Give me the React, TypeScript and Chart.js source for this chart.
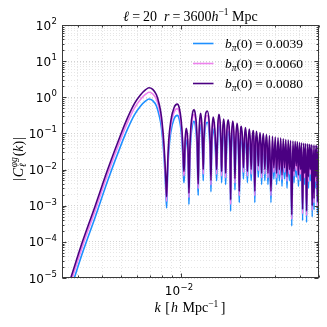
import React, { useEffect, useRef } from "react";
import { Chart, registerables } from "chart.js";
Chart.register(...registerables);

// wavenumber k [h/Mpc] (shared by all series)
const K = [
  0.00247, 0.002769, 0.003172, 0.003684, 0.004257, 0.004982, 0.005365, 0.005825, 0.00625, 0.00663,
  0.006892, 0.007197, 0.007516, 0.007768, 0.007971, 0.008219, 0.008385, 0.008464,
  0.008548, 0.008673, 0.008889, 0.009227, 0.009578, 0.009804, 0.010035, 0.0102, 0.010296, 0.010356,
  0.010416, 0.010508, 0.010637, 0.010818, 0.010912, 0.010977,
  0.011029, 0.011106, 0.011236, 0.011435, 0.011637, 0.011815, 0.011995, 0.012108, 0.012185, 0.012237,
  0.012307, 0.012408, 0.012582, 0.01276, 0.012895, 0.012969,
  0.013046, 0.013199, 0.013593, 0.013897, 0.014077, 0.014191,
  0.01427, 0.014387, 0.014572, 0.01483, 0.015057, 0.01516,
  0.015251, 0.015376, 0.015575, 0.015831, 0.015979, 0.016071,
  0.016147, 0.01628, 0.016451, 0.016644, 0.016761, 0.016838,
  0.016938, 0.017087, 0.017338, 0.017592, 0.017746, 0.017848,
  0.017937, 0.018084, 0.018306, 0.018532, 0.018684, 0.01877,
  0.018859, 0.019014, 0.019248, 0.019485, 0.019645, 0.019736,
  0.019982, 0.020228, 0.020474, 0.02072,
  0.020965, 0.02121, 0.021455, 0.0217,
  0.021945, 0.02219, 0.022435, 0.02268,
  0.022925, 0.02317, 0.023415, 0.02366,
  0.023905, 0.02415, 0.024395, 0.02464,
  0.024885, 0.02513, 0.025375, 0.02562,
  0.025865, 0.02611, 0.026355, 0.0266,
  0.026845, 0.02709, 0.027335, 0.02758,
  0.02807, 0.02856, 0.02905, 0.02954, 0.03003, 0.03052, 0.03101, 0.0315, 0.03199, 0.03248,
  0.03297, 0.03346, 0.03395, 0.03444, 0.03493, 0.03542, 0.03591, 0.0364, 0.03689, 0.03738,
  0.03787, 0.03836, 0.03885, 0.03934, 0.03983, 0.04032, 0.04081, 0.0413, 0.04179, 0.04228,
  0.04277, 0.04326, 0.04375, 0.04424, 0.04473, 0.04522, 0.04571, 0.0462, 0.04669, 0.04718,
  0.04767, 0.04816, 0.04865, 0.04914, 0.04963, 0.05012,
];

// |C_l(k)| for b_pi(0) = 0.0039
const B0039 = [
  7.1e-7, 4.9e-6, 4.9e-5, 4.9e-4, 0.0049, 0.049, 0.131, 0.33, 0.573, 0.791,
  0.898, 0.809, 0.573, 0.308, 0.14, 0.0208, 0.0025, 0.000868,
  0.00497, 0.0301, 0.109, 0.25, 0.315, 0.25, 0.109, 0.0301, 0.0077, 0.00434,
  0.00673, 0.0337, 0.0673, 0.0337, 0.00673, 0.00109,
  0.00345, 0.0208, 0.0756, 0.173, 0.218, 0.173, 0.0756, 0.0208, 0.00345, 0.00194,
  0.0177, 0.0887, 0.177, 0.0887, 0.0177, 0.0049,
  0.0203, 0.102, 0.203, 0.102, 0.0203, 0.00244,
  0.0137, 0.0687, 0.137, 0.0687, 0.0137, 0.0049,
  0.0165, 0.0829, 0.165, 0.0829, 0.0165, 0.00434,
  0.0122, 0.0614, 0.122, 0.0614, 0.0122, 0.00387,
  0.0117, 0.0585, 0.117, 0.0585, 0.0117, 0.000707,
  0.0107, 0.0536, 0.107, 0.0536, 0.0107, 0.00274,
  0.00931, 0.0466, 0.0931, 0.0466, 0.00931, 0.00122,
  0.0387, 0.077, 0.0387, 0.00546,
  0.0353, 0.0707, 0.0353, 0.00434,
  0.0322, 0.0644, 0.0322, 0.0049,
  0.0294, 0.0585, 0.0294, 0.00122,
  0.028, 0.0561, 0.028, 0.00614,
  0.0256, 0.0512, 0.0256, 0.00387,
  0.0244, 0.0488, 0.0244, 0.0049,
  0.0228, 0.0455, 0.0228, 0.00387,
  0.0425, 0.00122, 0.0406, 0.00546, 0.0387, 0.00387, 0.037, 0.0049, 0.0361, 0.00345,
  0.0345, 0.00546, 0.033, 0.00308, 0.0322, 0.0049, 0.0308, 0.000274, 0.0301, 0.00434,
  0.0294, 0.00614, 0.0287, 0.00345, 0.0274, 0.0049, 0.0268, 0.000387, 0.0262, 0.00387,
  0.0256, 0.000345, 0.025, 0.00308, 0.0244, 0.0049, 0.0239, 0.00049, 0.0234, 0.00077,
  0.0228, 0.00308, 0.0228, 0.000614, 0.0223, 0.00387,
];

// |C_l(k)| for b_pi(0) = 0.0060
const B0060 = [
  1.09e-6, 7.5e-6, 7.5e-5, 7.5e-4, 0.0075, 0.075, 0.202, 0.507, 0.881, 1.217,
  1.381, 1.245, 0.881, 0.473, 0.216, 0.032, 0.00385, 0.00134,
  0.00765, 0.0463, 0.168, 0.385, 0.485, 0.385, 0.168, 0.0463, 0.0119, 0.00668,
  0.0104, 0.0519, 0.104, 0.0519, 0.0104, 0.00168,
  0.00531, 0.032, 0.116, 0.266, 0.335, 0.266, 0.116, 0.032, 0.00531, 0.00299,
  0.0272, 0.137, 0.272, 0.137, 0.0272, 0.0075,
  0.0313, 0.157, 0.313, 0.157, 0.0313, 0.00376,
  0.0212, 0.106, 0.212, 0.106, 0.0212, 0.0075,
  0.0254, 0.128, 0.254, 0.128, 0.0254, 0.00668,
  0.0188, 0.0945, 0.188, 0.0945, 0.0188, 0.00596,
  0.018, 0.09, 0.18, 0.09, 0.018, 0.00109,
  0.0164, 0.0825, 0.164, 0.0825, 0.0164, 0.00422,
  0.0143, 0.0716, 0.143, 0.0716, 0.0143, 0.00188,
  0.0596, 0.119, 0.0596, 0.0084,
  0.0543, 0.109, 0.0543, 0.00668,
  0.0496, 0.099, 0.0496, 0.0075,
  0.0452, 0.09, 0.0452, 0.00188,
  0.0431, 0.0863, 0.0431, 0.00945,
  0.0394, 0.0788, 0.0394, 0.00596,
  0.0376, 0.075, 0.0376, 0.0075,
  0.0351, 0.07, 0.0351, 0.00596,
  0.0653, 0.00188, 0.0624, 0.0084, 0.0596, 0.00596, 0.0569, 0.0075, 0.0556, 0.00531,
  0.0531, 0.0084, 0.0507, 0.00473, 0.0496, 0.0075, 0.0473, 0.000422, 0.0463, 0.00668,
  0.0452, 0.00945, 0.0442, 0.00531, 0.0422, 0.0075, 0.0413, 0.000596, 0.0403, 0.00596,
  0.0394, 0.000531, 0.0385, 0.00473, 0.0376, 0.0075, 0.0368, 0.00075, 0.0359, 0.00119,
  0.0351, 0.00473, 0.0351, 0.00095, 0.0343, 0.00596,
];

// |C_l(k)| for b_pi(0) = 0.0080
const B0080 = [
  1.45e-6, 1e-5, 1e-4, 1e-3, 0.01, 0.1, 0.269, 0.676, 1.175, 1.622,
  1.841, 1.66, 1.175, 0.631, 0.288, 0.0427, 0.00513, 0.00178,
  0.0102, 0.0617, 0.224, 0.513, 0.646, 0.513, 0.224, 0.0617, 0.0158, 0.00891,
  0.0138, 0.0692, 0.138, 0.0692, 0.0138, 0.00224,
  0.00708, 0.0427, 0.155, 0.355, 0.447, 0.355, 0.155, 0.0427, 0.00708, 0.00398,
  0.0363, 0.182, 0.363, 0.182, 0.0363, 0.01,
  0.0417, 0.209, 0.417, 0.209, 0.0417, 0.00501,
  0.0282, 0.141, 0.282, 0.141, 0.0282, 0.01,
  0.0339, 0.17, 0.339, 0.17, 0.0339, 0.00891,
  0.0251, 0.126, 0.251, 0.126, 0.0251, 0.00794,
  0.024, 0.12, 0.24, 0.12, 0.024, 0.00145,
  0.0219, 0.11, 0.219, 0.11, 0.0219, 0.00562,
  0.0191, 0.0955, 0.191, 0.0955, 0.0191, 0.00251,
  0.0794, 0.158, 0.0794, 0.0112,
  0.0724, 0.145, 0.0724, 0.00891,
  0.0661, 0.132, 0.0661, 0.01,
  0.0603, 0.12, 0.0603, 0.00251,
  0.0575, 0.115, 0.0575, 0.0126,
  0.0525, 0.105, 0.0525, 0.00794,
  0.0501, 0.1, 0.0501, 0.01,
  0.0468, 0.0933, 0.0468, 0.00794,
  0.0871, 0.00251, 0.0832, 0.0112, 0.0794, 0.00794, 0.0759, 0.01, 0.0741, 0.00708,
  0.0708, 0.0112, 0.0676, 0.00631, 0.0661, 0.01, 0.0631, 0.000562, 0.0617, 0.00891,
  0.0603, 0.0126, 0.0589, 0.00708, 0.0562, 0.01, 0.055, 0.000794, 0.0537, 0.00794,
  0.0525, 0.000708, 0.0513, 0.00631, 0.0501, 0.01, 0.049, 0.001, 0.0479, 0.00158,
  0.0468, 0.00631, 0.0468, 0.00126, 0.0457, 0.00794,
];

const SERIES_LABELS = ["0.0039", "0.0060", "0.0080"];
const SERIES_COLORS = ["#1E90FF", "#EE82EE", "#4B0082"];

const X_MIN = 0.0025;
const X_MAX = 0.05;
const Y_MIN = 1e-5;
const Y_MAX = 1e2;
const Y_TICK_EXPONENTS = [-5, -4, -3, -2, -1, 0, 1, 2];
const X_MAJOR_TICKS = [0.01];
const X_MAJOR_LABELS = ["−2"];
const X_MINOR_TICKS = [0.003, 0.004, 0.005, 0.006, 0.007, 0.008, 0.009, 0.02, 0.03, 0.04, 0.05];

const SERIF = '"Liberation Serif", "DejaVu Serif", serif';
const SANS = '"DejaVu Sans", "Noto Sans", sans-serif';

type Seg = { t: string; s?: number; it?: boolean; dy?: number; g?: number; noAdv?: boolean };

function segFont(sg: Seg, base: number, fam: string) {
  return `${sg.it ? "italic " : ""}${sg.s ?? base}px ${fam}`;
}

function drawRich(
  ctx: CanvasRenderingContext2D,
  segs: Seg[],
  x: number,
  y: number,
  align: "left" | "center" | "right",
  base: number,
  fam: string
) {
  const widths = segs.map((sg) => {
    ctx.font = segFont(sg, base, fam);
    return ctx.measureText(sg.t).width;
  });
  let w = 0;
  segs.forEach((sg, i) => {
    w += (sg.g ?? 0) + (sg.noAdv ? 0 : widths[i]);
  });
  let cx = align === "left" ? x : align === "center" ? x - w / 2 : x - w;
  ctx.textAlign = "left";
  ctx.textBaseline = "alphabetic";
  segs.forEach((sg, i) => {
    cx += sg.g ?? 0;
    ctx.font = segFont(sg, base, fam);
    ctx.fillText(sg.t, cx, y + (sg.dy ?? 0));
    if (!sg.noAdv) cx += widths[i];
  });
}

function isDecade(v: number) {
  const l = Math.log10(v);
  return Math.abs(l - Math.round(l)) < 1e-6;
}

function yGridValues() {
  const out: number[] = [];
  for (let e = -5; e < 2; e++) {
    for (let m = 1; m <= 9; m++) out.push(m * Math.pow(10, e));
  }
  out.push(100);
  return out;
}

const decorPlugin = {
  id: "decor",
  afterDraw(chart: any) {
    const ctx: CanvasRenderingContext2D = chart.ctx;
    const a = chart.chartArea;
    const xs = chart.scales.x;
    const ys = chart.scales.y;
    ctx.save();
    ctx.fillStyle = "#000";
    // frame
    ctx.strokeStyle = "#3a3a3a";
    ctx.lineWidth = 1;
    const L = Math.round(a.left) + 0.5;
    const R = Math.round(a.right) - 0.5;
    const T = Math.round(a.top) + 0.5;
    const B = Math.round(a.bottom) - 0.5;
    ctx.strokeRect(L, T, R - L, B - T);
    // inward ticks
    ctx.beginPath();
    yGridValues().forEach((v) => {
      const len = isDecade(v) ? 4 : 2;
      const py = Math.round(ys.getPixelForValue(v)) + 0.5;
      ctx.moveTo(L, py);
      ctx.lineTo(L + len, py);
      ctx.moveTo(R, py);
      ctx.lineTo(R - len, py);
    });
    [...X_MAJOR_TICKS, ...X_MINOR_TICKS].forEach((v) => {
      const len = X_MAJOR_TICKS.includes(v) ? 4 : 2;
      const px = Math.round(xs.getPixelForValue(v)) + 0.5;
      ctx.moveTo(px, B);
      ctx.lineTo(px, B - len);
      ctx.moveTo(px, T);
      ctx.lineTo(px, T + len);
    });
    ctx.stroke();

    // y tick labels
    Y_TICK_EXPONENTS.forEach((e) => {
      const py = ys.getPixelForValue(Math.pow(10, e));
      const ex = String(e).replace("-", "−");
      drawRich(ctx, [{ t: "10" }, { t: ex, s: 8.5, dy: -5.5, g: 0.5 }], 57, py + 4.5, "right", 12, SANS);
    });
    // x tick labels
    X_MAJOR_TICKS.forEach((v, i) => {
      const px = xs.getPixelForValue(v);
      drawRich(ctx, [{ t: "10" }, { t: X_MAJOR_LABELS[i], s: 8.5, dy: -5.5, g: 0.5 }], px - 2, 295, "center", 12, SANS);
    });

    // title
    drawRich(
      ctx,
      [
        { t: "ℓ", it: true },
        { t: "=", g: 3 },
        { t: "20", g: 3 },
        { t: "r", it: true, g: 7 },
        { t: "=", g: 3 },
        { t: "3600", g: 3 },
        { t: "h", it: true },
        { t: "−1", s: 9.5, dy: -5.5 },
        { t: "Mpc", g: 3.5 },
      ],
      190.5,
      20.5,
      "center",
      14,
      SERIF
    );

    // legend
    const rows = [43.5, 63.5, 83.5];
    SERIES_LABELS.forEach((lab, i) => {
      const y = rows[i];
      ctx.strokeStyle = SERIES_COLORS[i];
      ctx.lineWidth = 1.6;
      ctx.beginPath();
      ctx.moveTo(193, y);
      ctx.lineTo(213.5, y);
      ctx.stroke();
      drawRich(
        ctx,
        [
          { t: "b", it: true },
          { t: "π", it: true, s: 9.5, dy: 3 },
          { t: "(0)" },
          { t: "=", g: 3 },
          { t: lab, g: 3 },
        ],
        225,
        y + 4.5,
        "left",
        13.5,
        SERIF
      );
    });

    // x axis title
    drawRich(
      ctx,
      [
        { t: "k", it: true },
        { t: "[", g: 4.5 },
        { t: "h", it: true, g: 1 },
        { t: "Mpc", g: 4.5 },
        { t: "−1", s: 9.5, dy: -5.5 },
        { t: "]", g: 2.5 },
      ],
      190,
      312,
      "center",
      14,
      SERIF
    );

    // y axis title (rotated)
    ctx.save();
    ctx.translate(18, 159);
    ctx.rotate(-Math.PI / 2);
    drawRich(
      ctx,
      [
        { t: "|" },
        { t: "C", it: true, g: 1 },
        { t: "ℓ", it: true, s: 9.5, dy: 3.5, noAdv: true, g: 0.5 },
        { t: "φg", it: true, s: 9.5, dy: -6 },
        { t: "(", g: 1 },
        { t: "k", it: true },
        { t: ")" },
        { t: "|", g: 1 },
      ],
      0,
      4.5,
      "center",
      14,
      SERIF
    );
    ctx.restore();

    ctx.restore();
  },
};

export default function App() {
  const ref = useRef<HTMLCanvasElement | null>(null);

  useEffect(() => {
    if (!ref.current) return;
    const series = [B0039, B0060, B0080];
    const datasets = series.map((vals, i) => ({
      label: `b_pi(0) = ${SERIES_LABELS[i]}`,
      data: K.map((k, j) => ({ x: k, y: vals[j] })),
      borderColor: SERIES_COLORS[i],
      backgroundColor: SERIES_COLORS[i],
      borderWidth: 1.6,
      pointRadius: 0,
      cubicInterpolationMode: "monotone",
      fill: false,
      order: 3 - i,
    }));
    const xGrid = [...X_MINOR_TICKS, ...X_MAJOR_TICKS].sort((p, q) => p - q);
    const yGrid = yGridValues();
    const gridColor = (c: any) => (c.tick && isDecade(c.tick.value) ? "#d2d2d2" : "#e6e6e6");
    const chart = new Chart(ref.current, {
      type: "line",
      data: { datasets },
      plugins: [decorPlugin],
      options: {
        animation: false,
        responsive: false,
        devicePixelRatio: 1,
        events: [],
        layout: { padding: { top: 25, right: 8, left: 0, bottom: 0 } },
        plugins: {
          legend: { display: false },
          title: { display: false },
          tooltip: { enabled: false },
        },
        scales: {
          x: {
            type: "logarithmic",
            min: X_MIN,
            max: X_MAX,
            afterBuildTicks: (axis: any) => {
              axis.ticks = xGrid.map((v) => ({ value: v }));
            },
            afterFit: (s: any) => {
              s.height = 49;
            },
            ticks: { display: false },
            grid: { color: gridColor, lineWidth: 1, drawTicks: false },
            border: { display: false, dash: [1, 2] },
          },
          y: {
            type: "logarithmic",
            min: Y_MIN,
            max: Y_MAX,
            afterBuildTicks: (axis: any) => {
              axis.ticks = yGrid.map((v) => ({ value: v }));
            },
            afterFit: (s: any) => {
              s.width = 62;
            },
            ticks: { display: false },
            grid: { color: gridColor, lineWidth: 1, drawTicks: false },
            border: { display: false, dash: [1, 2] },
          },
        },
      } as any,
    });
    return () => chart.destroy();
  }, []);

  return (
    <div style={{ position: "absolute", left: 0, top: 0, width: 327, height: 327, background: "#fff" }}>
      <canvas ref={ref} width={327} height={327} style={{ width: 327, height: 327, display: "block" }} />
    </div>
  );
}
